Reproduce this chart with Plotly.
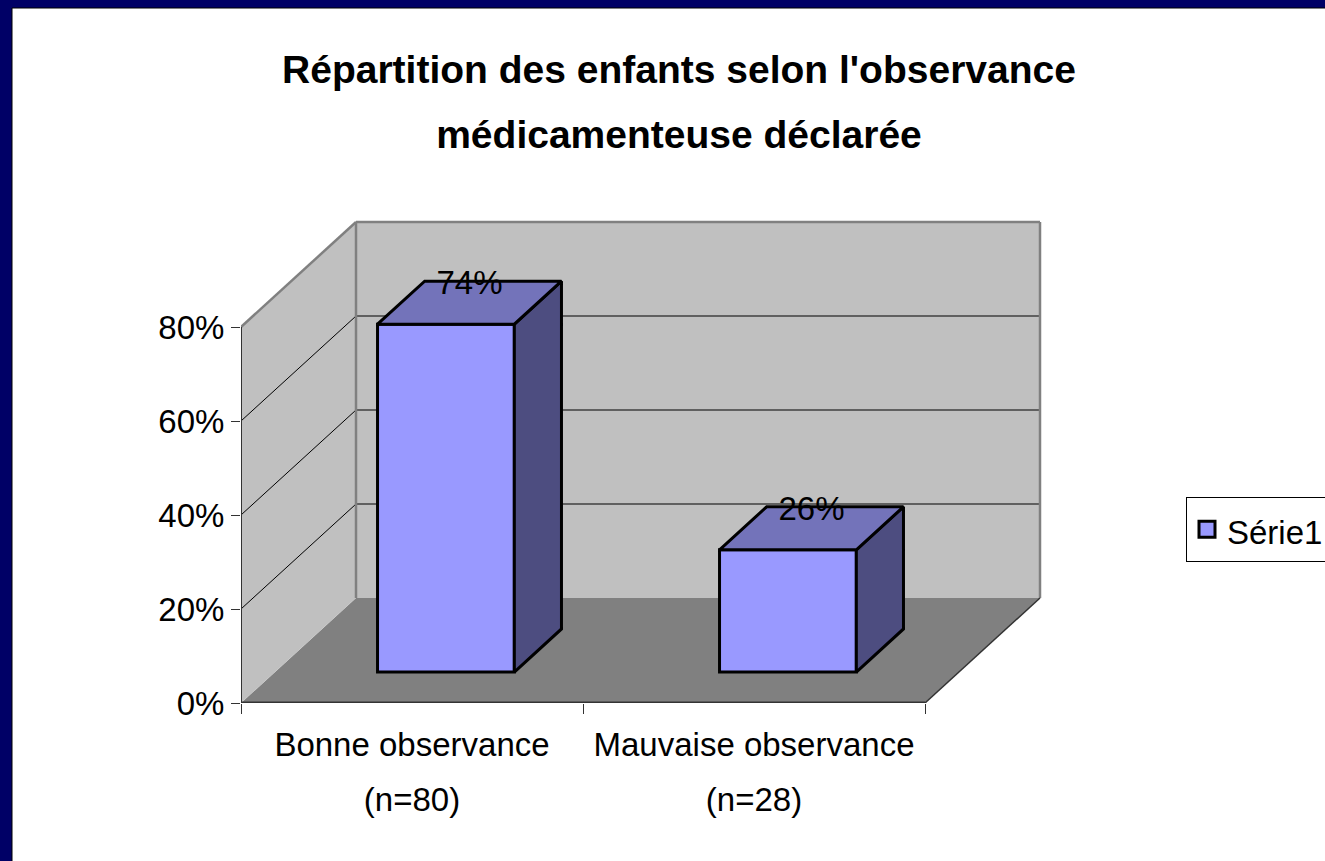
import plotly.graph_objects as go

categories = ["Bonne observance<br>(n=80)", "Mauvaise observance<br>(n=28)"]
values = [74, 26]
labels = ["74%", "26%"]
series_name = "Série1"
y_ticks = [0, 20, 40, 60, 80]
y_ticktext = ["0%", "20%", "40%", "60%", "80%"]
title_lines = ["Répartition des enfants selon l'observance", "médicamenteuse déclarée"]

FONT = "Liberation Sans, Arial, sans-serif"
W, H = 1325, 861
L, R, T, B = 241, 1048, 216, 703      # plot box in page pixels
PX_X, PX_Y = 342.0, 4.7               # pixels per category, per percent
DX, DY = 115 / PX_X, 105 / PX_Y       # oblique depth vector, in axis units
YTOP = 80.0
BAR_W = 0.4
D0, D1 = 0.295, 0.705                 # bar depth span


def proj(c, v, d):
    return c + d * DX, v + d * DY


def poly(points):
    xs, ys = zip(*[proj(*p) for p in points])
    return list(xs) + [xs[0]], list(ys) + [ys[0]]


def path(points):
    xs, ys = poly(points)
    return "M" + " L".join(f"{x},{y}" for x, y in zip(xs, ys)) + " Z"


def px(x):
    return (x - L) / (R - L)


def py(y):
    return (B - y) / (B - T)


n = len(categories)
shapes = [
    dict(type="rect", xref="paper", yref="paper", x0=px(12), x1=px(W + 20), y0=py(8), y1=py(H + 20),
         fillcolor="white", line=dict(color="black", width=1), layer="below"),
    # floor
    dict(type="path", xref="x", yref="y", layer="below", fillcolor="#808080", line=dict(width=0),
         path=path([(0, 0, 0), (n, 0, 0), (n, 0, 1), (0, 0, 1)])),
    # side wall
    dict(type="path", xref="x", yref="y", layer="below", fillcolor="#C0C0C0", line=dict(width=0),
         path=path([(0, 0, 0), (0, 0, 1), (0, YTOP, 1), (0, YTOP, 0)])),
    # back wall
    dict(type="path", xref="x", yref="y", layer="below", fillcolor="#C0C0C0", line=dict(width=0),
         path=path([(0, 0, 1), (n, 0, 1), (n, YTOP, 1), (0, YTOP, 1)])),
]


def seg(a, b, color, width):
    x0, y0 = proj(*a)
    x1, y1 = proj(*b)
    return dict(type="line", xref="x", yref="y", layer="below", x0=x0, y0=y0, x1=x1, y1=y1,
                line=dict(color=color, width=width))


for t in y_ticks[1:-1]:
    shapes.append(seg((0, t, 0), (0, t, 1), "black", 1))
    shapes.append(seg((0, t, 1), (n, t, 1), "black", 1))
shapes += [
    seg((0, YTOP, 0), (0, YTOP, 1), "#808080", 2.5),
    seg((0, YTOP, 1), (n, YTOP, 1), "#808080", 2.5),
    seg((0, 0, 1), (0, YTOP, 1), "#808080", 2.5),
    seg((n, 0, 1), (n, YTOP, 1), "#808080", 2.5),
    seg((0, 0, 0), (0, YTOP, 0), "#333333", 2),
    seg((0, 0, 0), (n, 0, 0), "#333333", 3),
    seg((n, 0, 0), (n, 0, 1), "#333333", 1.5),
]

fig = go.Figure()

# front faces: real bars, standing on the floor at the bar's front depth
fig.add_trace(go.Bar(
    x=[i + 0.5 + D0 * DX for i in range(n)], y=values, base=[D0 * DY] * n, width=BAR_W,
    marker=dict(color="#9999FF", line=dict(color="black", width=3)),
    name=series_name, showlegend=False, hoverinfo="skip"))

# side and top faces
for i, v in enumerate(values):
    a, b = i + 0.5 - BAR_W / 2, i + 0.5 + BAR_W / 2
    xs, ys = poly([(b, 0, D0), (b, 0, D1), (b, v, D1), (b, v, D0)])
    fig.add_trace(go.Scatter(x=xs, y=ys, mode="lines", fill="toself", fillcolor="#4D4D80",
                             line=dict(color="black", width=3), showlegend=False, hoverinfo="skip"))
    xs, ys = poly([(a, v, D0), (b, v, D0), (b, v, D1), (a, v, D1)])
    fig.add_trace(go.Scatter(x=xs, y=ys, mode="lines", fill="toself", fillcolor="#7373BA",
                             line=dict(color="black", width=3), showlegend=False, hoverinfo="skip"))

# data labels
lx, ly = zip(*[proj(i + 0.5, v, 0.5) for i, v in enumerate(values)])
fig.add_trace(go.Scatter(x=list(lx), y=list(ly), mode="text", text=labels, textposition="top center",
                         textfont=dict(family=FONT, size=33, color="black"), showlegend=False, hoverinfo="skip"))

# legend key for the series
fig.add_trace(go.Scatter(x=[None], y=[None], mode="markers", showlegend=True, hoverinfo="skip",
                         name=f"<span style='font-size:33px'>{series_name}</span>",
                         marker=dict(symbol="square", size=16, color="#9999FF", line=dict(color="black", width=3))))

fig.update_layout(
    width=W, height=H, autosize=False,
    margin=dict(l=L, r=W - R, t=T, b=H - B, pad=0, autoexpand=False),
    paper_bgcolor="#000066", plot_bgcolor="rgba(0,0,0,0)",
    font=dict(family=FONT, color="black"),
    barmode="overlay",
    title=dict(text="<br>".join(f"<b><span style='font-size:39px'>{s}</span></b>" for s in title_lines),
               font=dict(family=FONT, size=50, color="black"),
               x=679 / W, xanchor="center", y=1 - 83 / H, yanchor="top", automargin=False),
    legend=dict(x=px(1186), y=py(497), xanchor="left", yanchor="top", bgcolor="white", itemsizing="trace",
                bordercolor="black", borderwidth=1, font=dict(family=FONT, size=38, color="black")),
    xaxis=dict(range=[0, (R - L) / PX_X], tickmode="array", tickvals=[i + 0.5 for i in range(n)],
               ticktext=[f"<span style='font-size:33px'>{c}</span>".replace("<br>", "</span><br><span style='font-size:33px'>") for c in categories],
               tickfont=dict(family=FONT, size=42, color="black"), tickangle=0, automargin=False,
               ticks="", showgrid=False, zeroline=False, showline=False, ticklabelstandoff=10,
               minor=dict(tickmode="array", tickvals=list(range(n + 1)), ticks="outside", ticklen=10,
                          tickcolor="#333333", tickwidth=1, showgrid=False)),
    yaxis=dict(range=[0, (B - T) / PX_Y], tickmode="array", tickvals=y_ticks, ticktext=y_ticktext,
               tickfont=dict(family=FONT, size=33, color="black"), ticks="outside", ticklen=9, automargin=False,
               tickcolor="#333333", tickwidth=1, showgrid=False, zeroline=False, showline=False),
    shapes=shapes,
)

fig.write_html("out.html", config=dict(displayModeBar=False),
               post_script="document.documentElement.style.overflow='hidden';document.body.style.margin='0';")
